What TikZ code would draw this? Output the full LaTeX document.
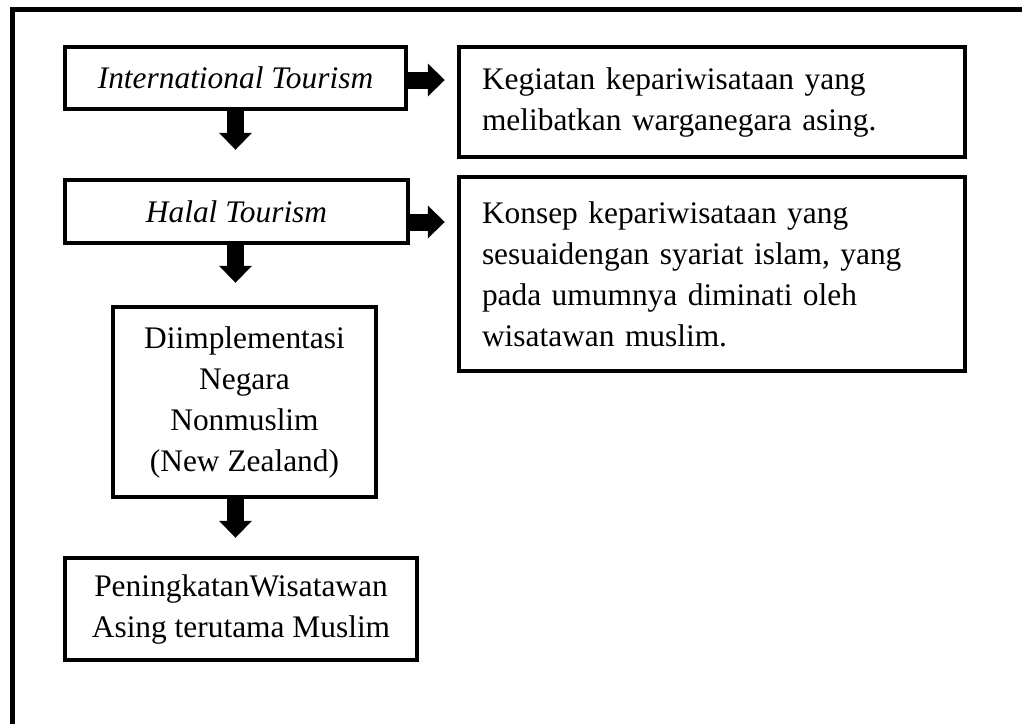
\documentclass[tikz,border=0pt]{standalone}
\usepackage{fontspec}
\setmainfont{Liberation Serif}
\usetikzlibrary{arrows.meta}

\begin{document}
\begin{tikzpicture}[x=1pt,y=-1pt,
  box/.style={draw,line width=4.5pt,align=center,inner sep=0pt,font=\fontsize{31.4}{41}\selectfont},
  defbox/.style={box,align=left,inner xsep=23pt,text width=460pt},
  fatarrow/.style={line width=17pt,-{Triangle[length=17pt,width=33pt,line width=0pt]}}]

\useasboundingbox (0,0) rectangle (1022,724);

%frame, only top and left side
\draw[line width=5pt] (12.5,724) -- (12.5,9.5) -- (1022,9.5);

%left column
\node[box,minimum width=341pt,minimum height=62pt] (intl) at (235.5,78) {\textit{International Tourism}};
\node[box,minimum width=343pt,minimum height=63pt] (halal) at (236.5,211.5) {\textit{Halal Tourism}};
\node[box,minimum width=263pt,minimum height=190pt] (implementasi) at (244.5,402) {Diimplementasi\\Negara\\Nonmuslim\\(New Zealand)};
\node[box,minimum width=352pt,minimum height=102pt] (peningkatan) at (241,609) {PeningkatanWisatawan\\Asing terutama Muslim};

%right column
\node[defbox,minimum height=110pt] (kegiatan) at (712,102) {Kegiatan kepariwisataan yang\\melibatkan warganegara asing.};
\node[defbox,minimum height=194pt] (konsep) at (712,274) {Konsep kepariwisataan yang\\sesuaidengan syariat islam, yang\\pada umumnya diminati oleh\\wisatawan muslim.};

%arrows
\draw[fatarrow,shorten >=12pt] ([yshift=-2pt]intl.east) -- ([yshift=-2pt]intl.east -| kegiatan.west);
\draw[fatarrow,shorten >=12pt] ([yshift=-10.5pt]halal.east) -- ([yshift=-10.5pt]halal.east -| konsep.west);
\draw[fatarrow,shorten >=28pt] (intl.south) -- (intl.south |- halal.north);
\draw[fatarrow,shorten >=22pt] (intl.south |- halal.south) -- (intl.south |- implementasi.north);
\draw[fatarrow,shorten >=18pt] (intl.south |- implementasi.south) -- (intl.south |- peningkatan.north);

\end{tikzpicture}
\end{document}
